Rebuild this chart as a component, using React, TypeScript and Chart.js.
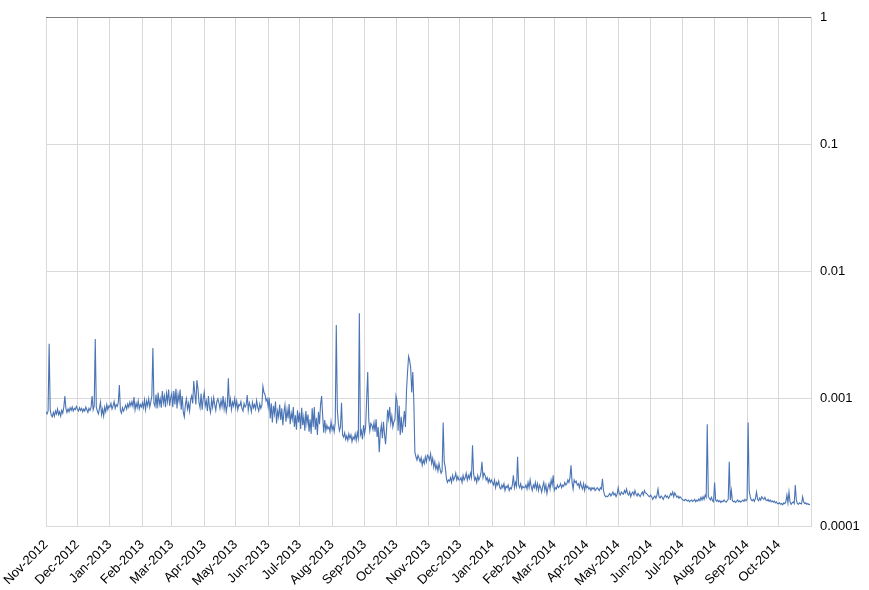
import React, { useEffect, useRef } from 'react';
import Chart from 'chart.js/auto';

// x axis: one tick per month start
const monthLabels = [
  'Nov-2012', 'Dec-2012', 'Jan-2013', 'Feb-2013', 'Mar-2013', 'Apr-2013', 'May-2013', 'Jun-2013',
  'Jul-2013', 'Aug-2013', 'Sep-2013', 'Oct-2013', 'Nov-2013', 'Dec-2013', 'Jan-2014', 'Feb-2014',
  'Mar-2014', 'Apr-2014', 'May-2014', 'Jun-2014', 'Jul-2014', 'Aug-2014', 'Sep-2014', 'Oct-2014',
];
const monthDays = [30, 31, 31, 28, 31, 30, 31, 30, 31, 31, 30, 31, 30, 31, 31, 28, 31, 30, 31, 30, 31, 31, 30, 31];

// y axis (log)
const yTickValues = [0.0001, 0.001, 0.01, 0.1, 1];
const yTickLabels = ['0.0001', '0.001', '0.01', '0.1', '1'];

// daily values, one array per month
const nov12 = [7.9e-4, 7.6e-4, 8.0e-4, 2.7e-3, 8.2e-4, 7.4e-4, 7.2e-4, 7.8e-4, 7.3e-4, 8.0e-4, 7.6e-4, 8.3e-4, 7.5e-4, 7.9e-4, 7.3e-4, 8.1e-4, 7.7e-4, 8.6e-4, 1.05e-3, 8.4e-4, 7.8e-4, 8.3e-4, 7.9e-4, 8.5e-4, 8.1e-4, 8.6e-4, 8.0e-4, 8.4e-4, 8.2e-4, 8.7e-4];
const dec12 = [8.3e-4, 8.0e-4, 8.5e-4, 8.1e-4, 8.4e-4, 7.9e-4, 8.3e-4, 8.0e-4, 8.6e-4, 8.2e-4, 7.8e-4, 8.4e-4, 8.1e-4, 8.6e-4, 1.05e-3, 8.2e-4, 8.8e-4, 2.95e-3, 8.6e-4, 8.0e-4, 7.6e-4, 8.4e-4, 9.4e-4, 7.5e-4, 8.3e-4, 7.3e-4, 8.6e-4, 7.9e-4, 9.0e-4, 8.2e-4, 8.8e-4];
const jan13 = [8.6e-4, 9.2e-4, 8.3e-4, 8.8e-4, 9.5e-4, 8.4e-4, 9.0e-4, 8.7e-4, 9.3e-4, 1.28e-3, 8.1e-4, 7.7e-4, 8.5e-4, 8.0e-4, 8.4e-4, 8.9e-4, 8.3e-4, 9.1e-4, 8.6e-4, 9.4e-4, 8.8e-4, 9.5e-4, 8.7e-4, 1.03e-3, 8.2e-4, 9.2e-4, 8.5e-4, 9.6e-4, 8.3e-4, 9.0e-4, 8.6e-4];
const feb13 = [9.3e-4, 8.5e-4, 9.8e-4, 8.2e-4, 9.6e-4, 8.8e-4, 1.0e-3, 8.6e-4, 9.4e-4, 1.05e-3, 2.5e-3, 9.2e-4, 8.7e-4, 1.08e-3, 8.4e-4, 1.12e-3, 9.0e-4, 1.0e-3, 8.5e-4, 1.15e-3, 9.3e-4, 1.05e-3, 8.6e-4, 1.1e-3, 9.5e-4, 1.18e-3, 8.8e-4, 1.02e-3];
const mar13 = [1.1e-3, 8.6e-4, 1.15e-3, 9.0e-4, 1.2e-3, 8.4e-4, 1.08e-3, 9.5e-4, 1.18e-3, 8.2e-4, 1.05e-3, 7.8e-4, 7.2e-4, 9.0e-4, 1.0e-3, 8.3e-4, 9.2e-4, 8.0e-4, 9.8e-4, 1.05e-3, 9.2e-4, 1.38e-3, 1.1e-3, 9.0e-4, 1.4e-3, 1.2e-3, 9.3e-4, 8.5e-4, 1.1e-3, 8.2e-4, 1.0e-3];
const apr13 = [1.13e-3, 8.8e-4, 9.6e-4, 8.0e-4, 1.05e-3, 8.5e-4, 7.8e-4, 9.8e-4, 8.6e-4, 1.02e-3, 9.0e-4, 8.1e-4, 9.5e-4, 1.0e-3, 9.3e-4, 8.4e-4, 9.7e-4, 8.7e-4, 1.05e-3, 8.3e-4, 9.6e-4, 7.9e-4, 8.9e-4, 1.45e-3, 8.6e-4, 9.9e-4, 8.2e-4, 9.4e-4, 8.8e-4, 1.0e-3];
const may13 = [8.5e-4, 9.6e-4, 8.2e-4, 9.0e-4, 8.8e-4, 9.5e-4, 8.4e-4, 8.0e-4, 9.2e-4, 8.6e-4, 8.9e-4, 1.07e-3, 8.1e-4, 9.3e-4, 8.7e-4, 7.9e-4, 9.4e-4, 8.5e-4, 9.0e-4, 8.3e-4, 9.7e-4, 8.6e-4, 8.0e-4, 9.1e-4, 8.4e-4, 8.9e-4, 1.25e-3, 1.12e-3, 1.08e-3, 9.6e-4, 1.0e-3];
const jun13 = [8.6e-4, 1.02e-3, 7.0e-4, 9.2e-4, 6.5e-4, 8.8e-4, 7.6e-4, 9.5e-4, 6.4e-4, 8.0e-4, 7.2e-4, 9.0e-4, 6.8e-4, 8.4e-4, 6.2e-4, 7.8e-4, 8.9e-4, 6.6e-4, 8.2e-4, 7.0e-4, 9.1e-4, 6.3e-4, 7.7e-4, 6.9e-4, 8.6e-4, 6.0e-4, 7.4e-4, 5.7e-4, 8.1e-4, 6.5e-4];
const jul13 = [7.8e-4, 5.8e-4, 8.5e-4, 6.2e-4, 7.2e-4, 5.6e-4, 8.0e-4, 6.4e-4, 7.5e-4, 5.5e-4, 6.9e-4, 5.3e-4, 8.4e-4, 6.0e-4, 8.6e-4, 5.7e-4, 7.1e-4, 5.2e-4, 7.9e-4, 6.3e-4, 9.0e-4, 1.05e-3, 7.4e-4, 5.4e-4, 6.8e-4, 5.6e-4, 6.2e-4, 5.8e-4, 6.0e-4, 5.5e-4, 6.6e-4];
const aug13 = [5.7e-4, 6.1e-4, 5.5e-4, 6.5e-4, 3.8e-3, 8.2e-4, 6.4e-4, 5.6e-4, 6.0e-4, 9.3e-4, 5.2e-4, 5.0e-4, 5.4e-4, 4.8e-4, 5.1e-4, 4.7e-4, 5.3e-4, 4.9e-4, 5.2e-4, 4.6e-4, 5.0e-4, 4.8e-4, 5.3e-4, 4.7e-4, 5.4e-4, 4.9e-4, 4.7e-3, 5.2e-4, 5.6e-4, 4.8e-4, 6.2e-4];
const sep13 = [5.3e-4, 6.0e-4, 1.0e-3, 1.62e-3, 6.8e-4, 5.6e-4, 6.4e-4, 6.2e-4, 5.7e-4, 6.5e-4, 5.5e-4, 6.9e-4, 5.0e-4, 6.0e-4, 3.8e-4, 5.4e-4, 6.2e-4, 4.9e-4, 6.6e-4, 5.3e-4, 4.4e-4, 5.8e-4, 8.2e-4, 7.0e-4, 8.6e-4, 6.4e-4, 7.3e-4, 6.0e-4, 6.6e-4, 6.9e-4];
const oct13 = [1.05e-3, 9.6e-4, 5.6e-4, 8.8e-4, 5.2e-4, 7.2e-4, 5.4e-4, 6.6e-4, 8.0e-4, 6.0e-4, 1.15e-3, 1.62e-3, 2.15e-3, 2.0e-3, 1.75e-3, 1.12e-3, 1.62e-3, 9.5e-4, 3.8e-4, 3.5e-4, 3.3e-4, 3.6e-4, 3.4e-4, 3.2e-4, 3.45e-4, 3.0e-4, 3.3e-4, 3.1e-4, 3.5e-4, 3.2e-4, 3.6e-4];
const nov13 = [3.5e-4, 3.3e-4, 3.7e-4, 3.1e-4, 3.4e-4, 2.9e-4, 3.2e-4, 2.8e-4, 3.0e-4, 2.7e-4, 3.1e-4, 2.8e-4, 2.6e-4, 2.7e-4, 6.5e-4, 3.2e-4, 2.9e-4, 2.4e-4, 2.2e-4, 2.3e-4, 2.25e-4, 2.4e-4, 2.2e-4, 2.5e-4, 2.3e-4, 2.4e-4, 2.6e-4, 2.3e-4, 2.45e-4, 2.3e-4];
const dec13 = [2.3e-4, 2.4e-4, 2.2e-4, 2.5e-4, 2.3e-4, 2.4e-4, 2.6e-4, 2.3e-4, 2.5e-4, 2.35e-4, 2.6e-4, 2.4e-4, 4.3e-4, 2.6e-4, 2.3e-4, 2.4e-4, 2.2e-4, 2.5e-4, 2.3e-4, 2.4e-4, 2.6e-4, 3.2e-4, 2.4e-4, 2.6e-4, 2.5e-4, 2.3e-4, 2.4e-4, 2.2e-4, 2.35e-4, 2.2e-4, 2.3e-4];
const jan14 = [2.2e-4, 2.1e-4, 2.3e-4, 2.0e-4, 2.2e-4, 2.1e-4, 2.25e-4, 2.0e-4, 1.95e-4, 2.1e-4, 2.0e-4, 2.15e-4, 1.9e-4, 2.05e-4, 2.0e-4, 2.1e-4, 1.9e-4, 2.0e-4, 1.95e-4, 2.1e-4, 2.5e-4, 2.0e-4, 2.2e-4, 2.05e-4, 3.5e-4, 2.1e-4, 2.0e-4, 2.15e-4, 1.95e-4, 2.05e-4, 2.0e-4];
const feb14 = [2.0e-4, 2.1e-4, 1.95e-4, 2.2e-4, 2.0e-4, 2.3e-4, 2.05e-4, 1.9e-4, 2.1e-4, 2.0e-4, 2.2e-4, 1.95e-4, 2.15e-4, 1.9e-4, 2.1e-4, 2.0e-4, 1.85e-4, 2.05e-4, 2.2e-4, 1.9e-4, 2.1e-4, 1.8e-4, 2.0e-4, 2.15e-4, 1.95e-4, 2.3e-4, 2.1e-4, 2.5e-4];
const mar14 = [1.9e-4, 2.0e-4, 1.95e-4, 2.1e-4, 2.0e-4, 2.05e-4, 2.15e-4, 2.0e-4, 2.1e-4, 2.05e-4, 2.2e-4, 2.1e-4, 2.15e-4, 2.3e-4, 2.2e-4, 2.4e-4, 3.0e-4, 2.2e-4, 1.95e-4, 2.3e-4, 2.2e-4, 2.25e-4, 2.1e-4, 2.15e-4, 2.0e-4, 2.2e-4, 2.05e-4, 1.95e-4, 2.15e-4, 1.9e-4, 2.1e-4];
const apr14 = [2.0e-4, 2.05e-4, 1.95e-4, 2.0e-4, 1.9e-4, 2.0e-4, 1.95e-4, 2.0e-4, 1.9e-4, 1.95e-4, 2.0e-4, 1.95e-4, 1.9e-4, 2.0e-4, 1.95e-4, 2.35e-4, 1.9e-4, 1.75e-4, 1.7e-4, 1.72e-4, 1.7e-4, 1.75e-4, 1.8e-4, 1.72e-4, 1.78e-4, 1.85e-4, 1.75e-4, 1.8e-4, 1.7e-4, 1.78e-4];
const may14 = [2.0e-4, 1.8e-4, 1.75e-4, 1.85e-4, 1.8e-4, 1.78e-4, 1.9e-4, 1.82e-4, 1.95e-4, 1.8e-4, 1.75e-4, 1.85e-4, 1.7e-4, 1.8e-4, 1.85e-4, 1.75e-4, 1.9e-4, 1.78e-4, 1.72e-4, 1.8e-4, 1.75e-4, 1.7e-4, 1.78e-4, 1.85e-4, 1.75e-4, 1.9e-4, 1.82e-4, 1.8e-4, 1.76e-4, 1.72e-4, 1.7e-4];
const jun14 = [1.75e-4, 1.7e-4, 1.62e-4, 1.68e-4, 1.72e-4, 1.65e-4, 1.75e-4, 1.95e-4, 1.7e-4, 1.66e-4, 1.72e-4, 1.68e-4, 1.62e-4, 1.7e-4, 1.75e-4, 1.68e-4, 1.72e-4, 1.65e-4, 1.7e-4, 1.8e-4, 1.75e-4, 1.85e-4, 1.7e-4, 1.82e-4, 1.75e-4, 1.68e-4, 1.72e-4, 1.65e-4, 1.7e-4, 1.66e-4];
const jul14 = [1.62e-4, 1.6e-4, 1.58e-4, 1.62e-4, 1.6e-4, 1.57e-4, 1.6e-4, 1.55e-4, 1.58e-4, 1.6e-4, 1.56e-4, 1.58e-4, 1.62e-4, 1.55e-4, 1.6e-4, 1.57e-4, 1.63e-4, 1.58e-4, 1.68e-4, 1.6e-4, 1.7e-4, 1.62e-4, 1.75e-4, 1.68e-4, 6.3e-4, 1.7e-4, 1.65e-4, 1.6e-4, 1.68e-4, 1.58e-4, 1.55e-4];
const aug14 = [2.2e-4, 1.6e-4, 1.56e-4, 1.6e-4, 1.55e-4, 1.58e-4, 1.53e-4, 1.57e-4, 1.55e-4, 1.6e-4, 1.56e-4, 1.54e-4, 1.58e-4, 1.62e-4, 3.2e-4, 1.6e-4, 1.9e-4, 1.58e-4, 1.55e-4, 1.57e-4, 1.53e-4, 1.56e-4, 1.6e-4, 1.55e-4, 1.58e-4, 1.54e-4, 1.57e-4, 1.6e-4, 1.56e-4, 1.62e-4, 1.58e-4];
const sep14 = [1.62e-4, 6.5e-4, 1.9e-4, 1.7e-4, 1.6e-4, 1.58e-4, 1.62e-4, 1.56e-4, 1.65e-4, 1.85e-4, 1.62e-4, 1.58e-4, 1.66e-4, 1.6e-4, 1.7e-4, 1.65e-4, 1.62e-4, 1.68e-4, 1.6e-4, 1.58e-4, 1.62e-4, 1.56e-4, 1.6e-4, 1.55e-4, 1.58e-4, 1.54e-4, 1.57e-4, 1.52e-4, 1.55e-4, 1.5e-4];
const oct14 = [1.5e-4, 1.52e-4, 1.48e-4, 1.5e-4, 1.47e-4, 1.52e-4, 1.5e-4, 1.55e-4, 1.75e-4, 1.52e-4, 1.85e-4, 1.55e-4, 1.48e-4, 1.52e-4, 1.55e-4, 1.5e-4, 2.1e-4, 1.6e-4, 1.5e-4, 1.48e-4, 1.52e-4, 1.5e-4, 1.49e-4, 1.7e-4, 1.55e-4, 1.5e-4, 1.52e-4, 1.48e-4, 1.5e-4, 1.47e-4, 1.48e-4];

const months = [
  nov12, dec12, jan13, feb13, mar13, apr13, may13, jun13, jul13, aug13, sep13, oct13,
  nov13, dec13, jan14, feb14, mar14, apr14, may14, jun14, jul14, aug14, sep14, oct14,
];

const FONT = 'Liberation Sans, Arial, sans-serif';
const GRID = '#d9d9d9';

const App: React.FC = () => {
  const chartRef = useRef<HTMLCanvasElement>(null);
  const chartInstance = useRef<Chart | null>(null);

  useEffect(() => {
    if (!chartRef.current) return;
    if (chartInstance.current) chartInstance.current.destroy();

    // day index of each month start
    const starts: number[] = [];
    let total = 0;
    monthDays.forEach((d) => {
      starts.push(total);
      total += d;
    });

    const points = months.flatMap((vals, m) => vals.map((v, i) => ({ x: starts[m] + i, y: v })));

    chartInstance.current = new Chart(chartRef.current, {
      type: 'line',
      data: {
        datasets: [
          {
            data: points,
            borderColor: '#4a74b4',
            borderWidth: 1.1,
            pointRadius: 0,
            tension: 0,
            fill: false,
          },
        ],
      },
      options: {
        animation: false,
        responsive: true,
        maintainAspectRatio: false,
        layout: { padding: { top: 17, left: 46, right: 0, bottom: 0 } },
        plugins: {
          legend: { display: false },
          tooltip: { enabled: false },
        },
        scales: {
          x: {
            type: 'linear',
            min: 0,
            max: total,
            afterBuildTicks: (scale: any) => {
              scale.ticks = [...starts, total].map((v) => ({ value: v }));
            },
            afterFit: (scale: any) => {
              scale.height = 64;
              scale.paddingLeft = 0;
              scale.paddingRight = 0;
            },
            ticks: {
              autoSkip: false,
              maxRotation: 45,
              minRotation: 45,
              padding: 11,
              color: '#000',
              font: { family: FONT, size: 13 },
              callback: (_v: any, i: number) => monthLabels[i] ?? '',
            },
            grid: { color: GRID, drawTicks: false },
            border: { color: GRID },
          },
          y: {
            type: 'logarithmic',
            position: 'right',
            min: 0.0001,
            max: 1,
            afterBuildTicks: (scale: any) => {
              scale.ticks = yTickValues.map((v) => ({ value: v }));
            },
            afterFit: (scale: any) => {
              scale.width = 58;
            },
            ticks: {
              padding: 9,
              color: '#000',
              font: { family: FONT, size: 13 },
              callback: (_v: any, i: number) => yTickLabels[i] ?? '',
            },
            grid: {
              color: (ctx: any) => (ctx.tick && ctx.tick.value === 1 ? '#808080' : GRID),
              drawTicks: false,
            },
            border: { color: GRID },
          },
        },
      },
    });

    return () => {
      if (chartInstance.current) {
        chartInstance.current.destroy();
        chartInstance.current = null;
      }
    };
  }, []);

  return (
    <div style={{ position: 'fixed', left: 0, top: 0, width: 869, height: 590, background: '#fff' }}>
      <canvas ref={chartRef}></canvas>
    </div>
  );
};

export default App;
